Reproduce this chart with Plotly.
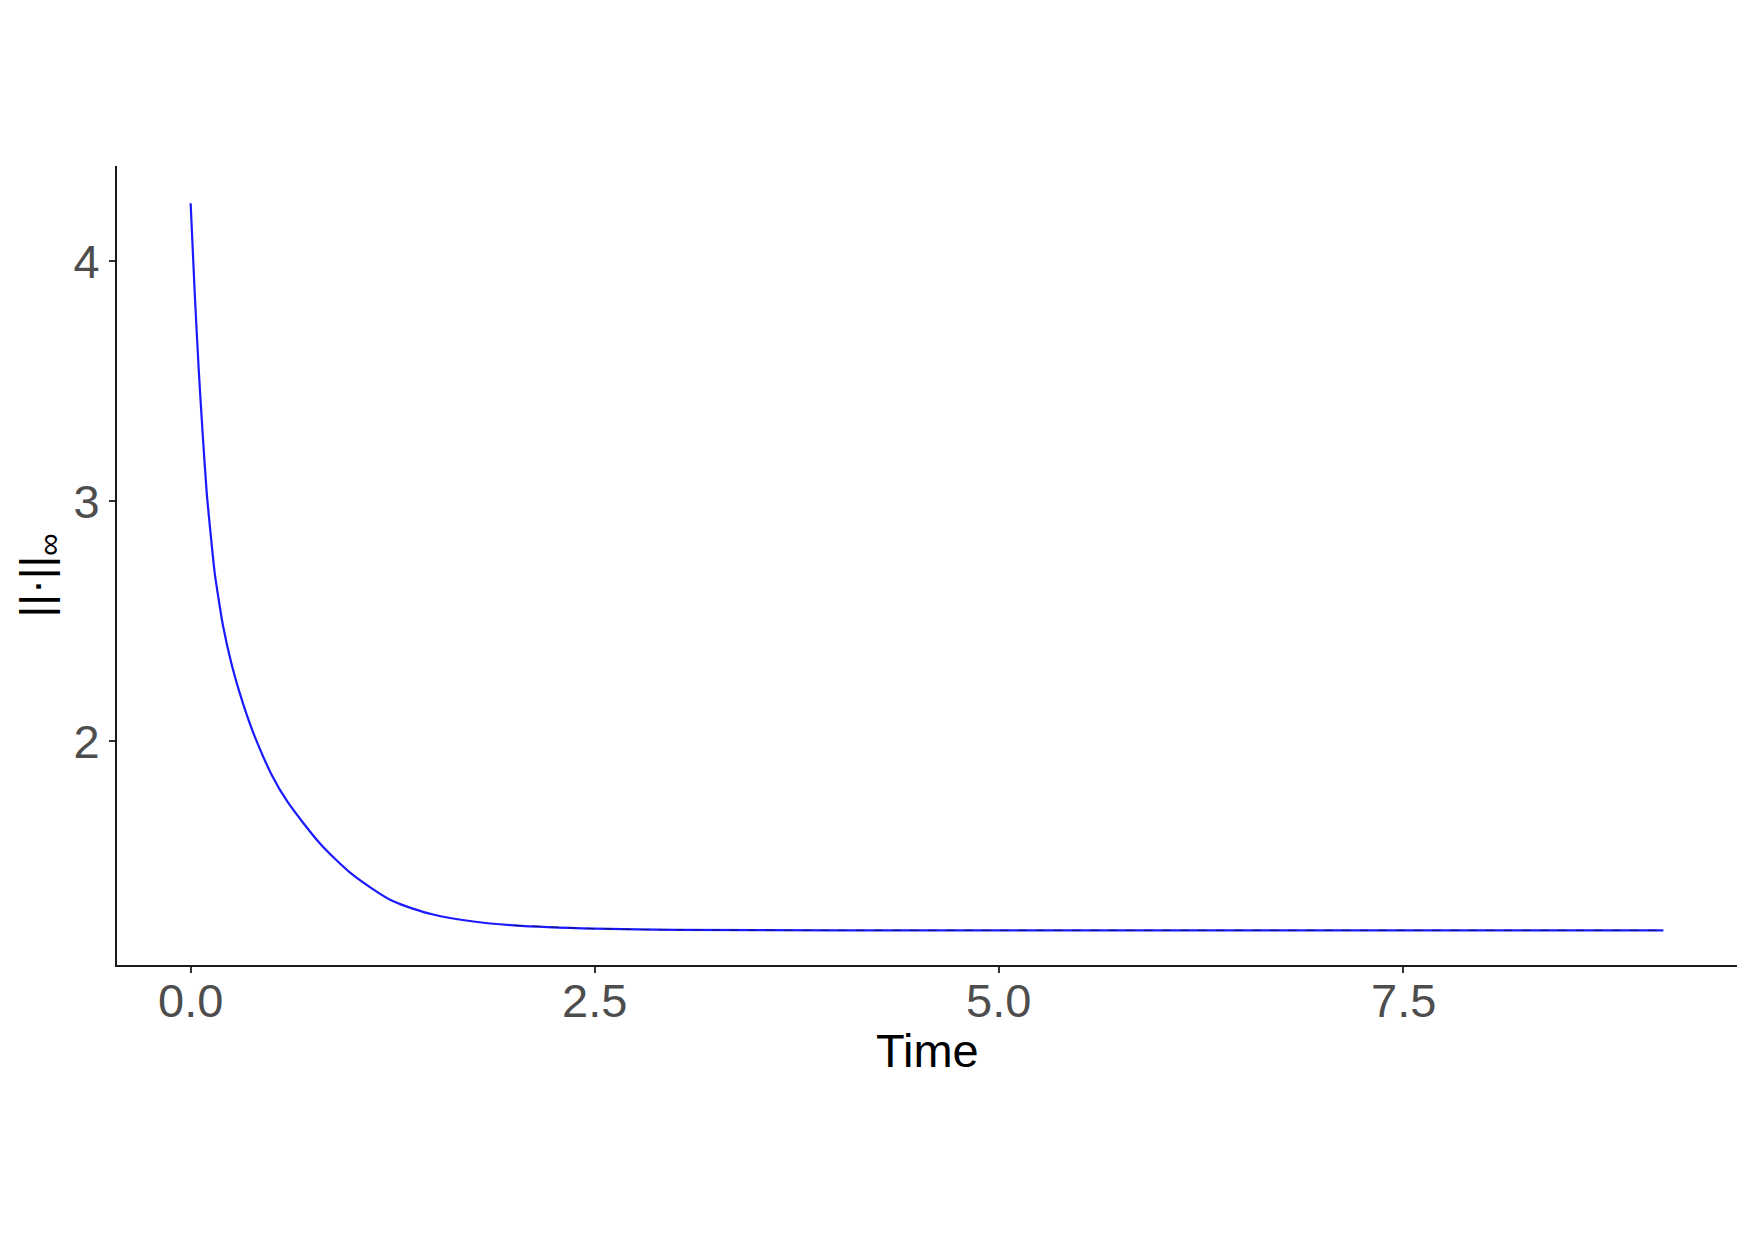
import plotly.graph_objects as go

# Data
time = [0.0, 0.025, 0.05, 0.075, 0.1, 0.125, 0.15, 0.175, 0.2, 0.25,
        0.3, 0.35, 0.4, 0.5, 0.6, 0.8, 1.0, 1.25, 1.5, 1.75,
        2.0, 2.5, 3.0, 4.0, 5.0, 6.0, 7.0, 8.0, 9.11]
norm_inf = [4.242, 3.872, 3.549, 3.275, 3.032, 2.855, 2.695, 2.584, 2.482, 2.330,
            2.209, 2.105, 2.014, 1.862, 1.747, 1.574, 1.445, 1.334, 1.278, 1.249,
            1.233, 1.219, 1.214, 1.2123, 1.212, 1.212, 1.212, 1.212, 1.212]

x_ticks = [0.0, 2.5, 5.0, 7.5]
y_ticks = [2, 3, 4]

FONT = "Liberation Sans, Arial, Helvetica, sans-serif"

fig = go.Figure()
fig.add_trace(go.Scatter(
    x=time, y=norm_inf, mode="lines",
    line=dict(color="#1a1aff", width=2.2, shape="spline", smoothing=0.7),
    showlegend=False, hoverinfo="skip"))

# dashed overlay visible on the plateau
plateau_t = [t for t in time if t >= 2.0]
plateau_v = [v for t, v in zip(time, norm_inf) if t >= 2.0]
fig.add_trace(go.Scatter(
    x=plateau_t, y=plateau_v, mode="lines",
    line=dict(color="#10108a", width=1.1, dash="dash", shape="spline", smoothing=0.7),
    showlegend=False, hoverinfo="skip"))

annotations = [
    dict(text="Time", x=0.5, y=0, xref="paper", yref="paper",
         xanchor="center", yanchor="middle", yshift=-85, showarrow=False,
         font=dict(size=47, color="black", family=FONT)),
    dict(text="||·||<sub>∞</sub>", x=0, y=0.5, xref="paper", yref="paper",
         xanchor="center", yanchor="middle", xshift=-79, yshift=-10,
         textangle=-90, showarrow=False,
         font=dict(size=45, color="black", family=FONT)),
]
for v in x_ticks:
    annotations.append(dict(
        text=f"{v:.1f}", x=v, y=0, xref="x", yref="paper",
        xanchor="center", yanchor="middle", yshift=-35, showarrow=False,
        font=dict(size=47, color="#4d4d4d", family=FONT)))

fig.update_layout(
    width=1755, height=1240,
    margin=dict(l=117, r=18, t=166, b=275, autoexpand=False),
    paper_bgcolor="white", plot_bgcolor="white",
    font=dict(family=FONT, color="#4d4d4d"),
    xaxis=dict(
        range=[-0.4555, 9.5655], tickvals=x_ticks, showticklabels=False,
        showgrid=False, zeroline=False,
        showline=True, linecolor="#1a1a1a", linewidth=2,
        ticks="outside", ticklen=6, tickwidth=2, tickcolor="#333333",
    ),
    yaxis=dict(
        range=[1.0677, 4.397], tickvals=y_ticks,
        ticktext=[str(v) for v in y_ticks],
        showgrid=False, zeroline=False,
        showline=True, linecolor="#1a1a1a", linewidth=2,
        ticks="outside", ticklen=6, tickwidth=2, tickcolor="#333333",
        tickfont=dict(size=47, color="#4d4d4d", family=FONT),
    ),
    annotations=annotations,
)

fig.write_html("out.html")
